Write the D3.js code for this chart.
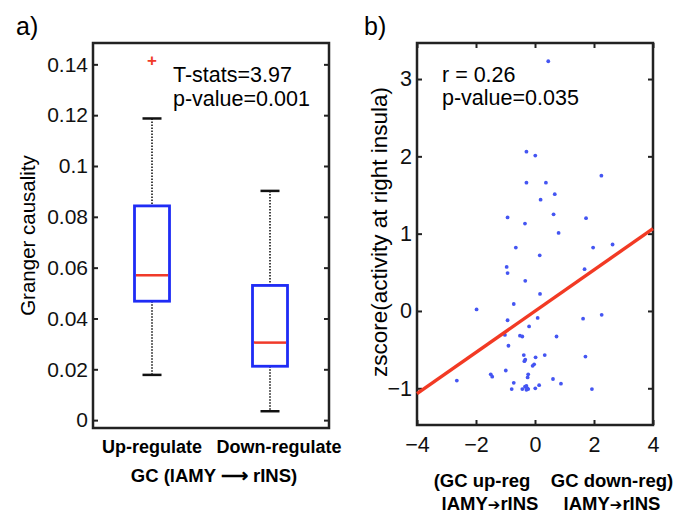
<!DOCTYPE html>
<html>
<head>
<meta charset="utf-8">
<script src="https://cdn.jsdelivr.net/npm/d3@7"></script>
<style>
  body { margin: 0; background: #fff; }
  svg { font-family: "Liberation Sans", Arial, sans-serif; }
</style>
</head>
<body>
<div id="chart"></div>
<script>
// panel a: boxplot of Granger causality
const groups = ['Up-regulate', 'Down-regulate'];
const boxStats = [
  { group: 'Up-regulate', lo: 0.0178, q1: 0.0468, med: 0.0570, q3: 0.0843, hi: 0.1187, outliers: [0.1418] },
  { group: 'Down-regulate', lo: 0.0035, q1: 0.0212, med: 0.0305, q3: 0.0530, hi: 0.0902, outliers: [] }
];
const gcTicks = [0, 0.02, 0.04, 0.06, 0.08, 0.1, 0.12, 0.14];

// panel b: scatter with regression line
const gcDiff = [0.45, -0.29, 0.01, 2.25, -0.29, 0.37, 0.67, 0.19, -0.93, 0.63, -0.34, 1.73, 0.80,
  -0.65, 0.16, 1.97, 2.63, -0.96, 1.68, -0.93, -0.33, 0.17, -1.98, -0.72, 2.26, 1.63, -0.93,
  0.09, -0.20, -1.02, -0.51, -0.43, 0.73, -0.90, -0.38, 0.02, 0.33, 1.71, -0.36, -0.33, -0.03,
  -0.08, -0.99, -1.50, -1.45, -0.23, -0.25, -2.65, 0.61, 0.88, -0.72, -0.79, -0.34, -0.29,
  -0.26, -0.43, -0.23, -0.29, 0.01, 0.14, 1.93];
const zActivity = [3.23, 2.06, 2.01, 1.75, 1.66, 1.66, 1.51, 1.44, 1.21, 1.25, 1.13, 1.20, 1.01,
  0.82, 0.72, 0.82, 0.86, 0.57, 0.54, 0.49, 0.39, 0.22, 0.02, 0.09, -0.05, -0.10, -0.12,
  -0.09, -0.20, -0.31, -0.32, -0.33, -0.33, -0.45, -0.57, -0.60, -0.57, -0.59, -0.65, -0.63, -0.69,
  -0.71, -0.77, -0.82, -0.85, -0.82, -0.86, -0.90, -0.88, -0.94, -0.93, -1.01, -0.98, -0.97,
  -1.00, -1.01, -1.01, -1.02, -1.00, -0.96, -1.01];
const fitLine = [{ x: -4, y: -1.07 }, { x: 4, y: 1.065 }];
const xTicksB = [-4, -2, 0, 2, 4];
const yTicksB = [-1, 0, 1, 2, 3];

const svg = d3.select('#chart').append('svg')
  .attr('width', 686).attr('height', 513);

const tickStyle = g => g.selectAll('line').attr('stroke', '#222').attr('stroke-width', 2);

// ---------- panel a ----------
const a = { left: 93, right: 329, top: 43, bottom: 428 };
const xA = d3.scalePoint().domain(groups).range([a.left, a.right]).padding(0.5);
const yA = d3.scaleLinear().domain([-0.0031, 0.1484]).range([a.bottom, a.top]);

const gA = svg.append('g');
gA.append('text').attr('x', 16).attr('y', 35).attr('font-size', 25).text('a)');

gA.append('g')
  .attr('transform', `translate(${a.left},0)`)
  .call(d3.axisLeft(yA).tickValues(gcTicks).tickSize(-5).tickPadding(5)
    .tickFormat(d => d === 0 ? '0' : String(+d.toFixed(2))))
  .call(g => g.select('.domain').remove())
  .call(g => g.selectAll('text').attr('font-size', 21).attr('fill', '#111'))
  .call(tickStyle);
gA.append('g')
  .attr('transform', `translate(${a.right},0)`)
  .call(d3.axisRight(yA).tickValues(gcTicks).tickSize(-5).tickFormat(''))
  .call(g => g.select('.domain').remove())
  .call(tickStyle);

gA.append('rect')
  .attr('x', a.left).attr('y', a.top)
  .attr('width', a.right - a.left).attr('height', a.bottom - a.top)
  .attr('fill', 'none').attr('stroke', '#222').attr('stroke-width', 2.5);

const boxW = 35, capW = 19;
const boxes = gA.selectAll('.box').data(boxStats).join('g').attr('class', 'box');
boxes.append('line')
  .attr('x1', d => xA(d.group)).attr('x2', d => xA(d.group))
  .attr('y1', d => yA(d.hi)).attr('y2', d => yA(d.q3))
  .attr('stroke', '#444').attr('stroke-width', 2).attr('stroke-dasharray', '1.5,1.5');
boxes.append('line')
  .attr('x1', d => xA(d.group)).attr('x2', d => xA(d.group))
  .attr('y1', d => yA(d.q1)).attr('y2', d => yA(d.lo))
  .attr('stroke', '#444').attr('stroke-width', 2).attr('stroke-dasharray', '1.5,1.5');
boxes.selectAll('.cap').data(d => [[d.group, d.hi], [d.group, d.lo]]).join('line')
  .attr('class', 'cap')
  .attr('x1', d => xA(d[0]) - capW / 2).attr('x2', d => xA(d[0]) + capW / 2)
  .attr('y1', d => yA(d[1])).attr('y2', d => yA(d[1]))
  .attr('stroke', '#111').attr('stroke-width', 2.5);
boxes.append('rect')
  .attr('x', d => xA(d.group) - boxW / 2).attr('width', boxW)
  .attr('y', d => yA(d.q3)).attr('height', d => yA(d.q1) - yA(d.q3))
  .attr('fill', 'none').attr('stroke', '#1f2cf5').attr('stroke-width', 2.8);
boxes.append('line')
  .attr('x1', d => xA(d.group) - boxW / 2 + 1.5).attr('x2', d => xA(d.group) + boxW / 2 - 1.5)
  .attr('y1', d => yA(d.med)).attr('y2', d => yA(d.med))
  .attr('stroke', '#f03a2a').attr('stroke-width', 2.5);
boxes.selectAll('.out').data(d => d.outliers.map(v => [d.group, v])).join('text')
  .attr('class', 'out')
  .attr('x', d => xA(d[0])).attr('y', d => yA(d[1]) + 6)
  .attr('text-anchor', 'middle').attr('font-size', 17).attr('font-weight', 'bold')
  .attr('fill', '#f03a2a').text('+');

gA.append('text').attr('x', 173).attr('y', 82).attr('font-size', 21.5).text('T-stats=3.97');
gA.append('text').attr('x', 173).attr('y', 106).attr('font-size', 21.5).text('p-value=0.001');

gA.selectAll('.cat').data(groups).join('text')
  .attr('class', 'cat')
  .attr('x', (d, i) => xA(d) + (i === 1 ? 9 : 0)).attr('y', 453)
  .attr('text-anchor', 'middle').attr('font-size', 18).attr('font-weight', 'bold')
  .text(d => d);
gA.append('text').attr('x', 214).attr('y', 482)
  .attr('text-anchor', 'middle').attr('font-size', 18.5).attr('font-weight', 'bold')
  .text('GC (lAMY \u27f6 rINS)');
gA.append('text')
  .attr('transform', `translate(35,${(a.top + a.bottom) / 2}) rotate(-90)`)
  .attr('text-anchor', 'middle').attr('font-size', 20.5)
  .text('Granger causality');

// ---------- panel b ----------
const b = { left: 417, right: 653, top: 43, bottom: 425 };
const xB = d3.scaleLinear().domain([-4, 4]).range([b.left, b.right]);
const yB = d3.scaleLinear().domain([-1.475, 3.466]).range([b.bottom, b.top]);

const gB = svg.append('g');
gB.append('text').attr('x', 364).attr('y', 35).attr('font-size', 25).text('b)');

gB.append('g').attr('transform', `translate(${b.left},0)`)
  .call(d3.axisLeft(yB).tickValues(yTicksB).tickSize(-5).tickPadding(5).tickFormat(d3.format('d')))
  .call(g => g.select('.domain').remove())
  .call(g => g.selectAll('text').attr('font-size', 21.5).attr('fill', '#111'))
  .call(tickStyle);
gB.append('g').attr('transform', `translate(${b.right},0)`)
  .call(d3.axisRight(yB).tickValues(yTicksB).tickSize(-5).tickFormat(''))
  .call(g => g.select('.domain').remove()).call(tickStyle);
gB.append('g').attr('transform', `translate(0,${b.bottom})`)
  .call(d3.axisBottom(xB).tickValues(xTicksB).tickSize(-5).tickPadding(12).tickFormat(d3.format('d')))
  .call(g => g.select('.domain').remove())
  .call(g => g.selectAll('text').attr('font-size', 21.5).attr('fill', '#111'))
  .call(tickStyle);
gB.append('g').attr('transform', `translate(0,${b.top})`)
  .call(d3.axisTop(xB).tickValues(xTicksB).tickSize(-5).tickFormat(''))
  .call(g => g.select('.domain').remove()).call(tickStyle);

gB.append('rect')
  .attr('x', b.left).attr('y', b.top)
  .attr('width', b.right - b.left).attr('height', b.bottom - b.top)
  .attr('fill', 'none').attr('stroke', '#222').attr('stroke-width', 2.5);

gB.selectAll('.pt').data(gcDiff.map((x, i) => ({ x, y: zActivity[i] }))).join('circle')
  .attr('class', 'pt')
  .attr('cx', d => xB(d.x)).attr('cy', d => yB(d.y))
  .attr('r', 1.9).attr('fill', '#4455f2');

gB.append('path')
  .datum(fitLine)
  .attr('d', d3.line().x(d => xB(d.x)).y(d => yB(d.y)))
  .attr('stroke', '#f23a24').attr('stroke-width', 3.4).attr('fill', 'none');

gB.append('text').attr('x', 442).attr('y', 82).attr('font-size', 21.5).text('r = 0.26');
gB.append('text').attr('x', 442).attr('y', 105).attr('font-size', 21.5).text('p-value=0.035');

gB.append('text')
  .attr('transform', `translate(387,232) rotate(-90)`)
  .attr('text-anchor', 'middle').attr('font-size', 22.5)
  .text('zscore(activity at right insula)');

const bottomLabels = [
  { x: 482, y: 487, t: '(GC up-reg', arrow: false },
  { x: 612, y: 487, t: 'GC down-reg)', arrow: false },
  { x: 490, y: 510, t: 'lAMY', arrow: true },
  { x: 612, y: 510, t: 'lAMY', arrow: true }
];
const bl = gB.selectAll('.bl').data(bottomLabels).join('text')
  .attr('class', 'bl')
  .attr('x', d => d.x).attr('y', d => d.y)
  .attr('text-anchor', 'middle').attr('font-size', 18.5).attr('font-weight', 'bold');
bl.append('tspan').text(d => d.t);
bl.filter(d => d.arrow).append('tspan')
  .attr('font-family', 'DejaVu Sans').attr('font-size', 15).text('\u2794');
bl.filter(d => d.arrow).append('tspan').text('rINS');
</script>
</body>
</html>
